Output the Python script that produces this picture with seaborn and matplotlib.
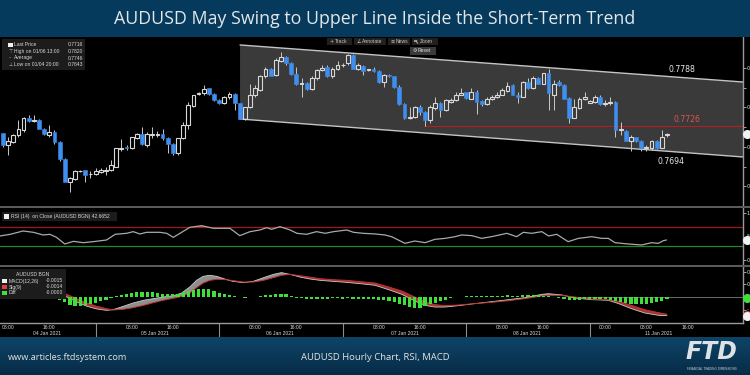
import matplotlib
matplotlib.use("Agg")
import matplotlib.pyplot as plt
import matplotlib.transforms as mtrans
from matplotlib.patches import Rectangle, Polygon, Circle
from matplotlib.lines import Line2D
from matplotlib.colors import LinearSegmentedColormap
import numpy as np
import pandas as pd
import seaborn as sns

sns.set_theme(style="dark")
plt.rcParams['font.family'] = ['DejaVu Sans']

# ---------------- data ----------------
opens = [0.7717, 0.7702, 0.7706, 0.7715, 0.7721, 0.7737, 0.7733, 0.7734, 0.7723, 0.7715,
         0.7719, 0.7706, 0.7685, 0.7656, 0.7659, 0.7669, 0.7671, 0.7665, 0.7665, 0.7668,
         0.7670, 0.7671, 0.7675, 0.7697, 0.7700, 0.7698, 0.7711, 0.7716, 0.7702, 0.7715,
         0.7715, 0.7716, 0.7711, 0.7704, 0.7692, 0.7711, 0.7728, 0.7752, 0.7767, 0.7768,
         0.7774, 0.7767, 0.7759, 0.7755, 0.7763, 0.7767, 0.7755, 0.7735, 0.7750, 0.7766,
         0.7772, 0.7789, 0.7799, 0.7791, 0.7808, 0.7814, 0.7806, 0.7792, 0.7780, 0.7781,
         0.7773, 0.7787, 0.7797, 0.7801, 0.7789, 0.7799, 0.7803, 0.7806, 0.7816, 0.7799,
         0.7802, 0.7797, 0.7798, 0.7796, 0.7782, 0.7791, 0.7789, 0.7776, 0.7754, 0.7737,
         0.7738, 0.7751, 0.7744, 0.7734, 0.7749, 0.7755, 0.7747, 0.7757, 0.7759, 0.7766,
         0.7769, 0.7761, 0.7769, 0.7758, 0.7754, 0.7760, 0.7763, 0.7766, 0.7771, 0.7778,
         0.7766, 0.7763, 0.7782, 0.7775, 0.7787, 0.7780, 0.7793, 0.7766, 0.7782, 0.7778,
         0.7762, 0.7737, 0.7749, 0.7760, 0.7756, 0.7757, 0.7763, 0.7754, 0.7755, 0.7757,
         0.7721, 0.7720, 0.7707, 0.7712, 0.7707, 0.7698, 0.7698, 0.7707, 0.7699, 0.7715]
highs = [0.7718, 0.7713, 0.7716, 0.7734, 0.7738, 0.7740, 0.7740, 0.7735, 0.7724, 0.7728,
         0.7721, 0.7707, 0.7686, 0.7662, 0.7671, 0.7671, 0.7671, 0.7669, 0.7673, 0.7673,
         0.7675, 0.7683, 0.7699, 0.7710, 0.7702, 0.7712, 0.7718, 0.7725, 0.7719, 0.7725,
         0.7720, 0.7723, 0.7713, 0.7705, 0.7711, 0.7731, 0.7757, 0.7766, 0.7770, 0.7778,
         0.7775, 0.7768, 0.7760, 0.7764, 0.7770, 0.7768, 0.7756, 0.7751, 0.7780, 0.7778,
         0.7791, 0.7801, 0.7800, 0.7812, 0.7820, 0.7815, 0.7807, 0.7801, 0.7787, 0.7782,
         0.7789, 0.7799, 0.7804, 0.7803, 0.7801, 0.7808, 0.7806, 0.7818, 0.7817, 0.7806,
         0.7804, 0.7799, 0.7801, 0.7797, 0.7792, 0.7792, 0.7790, 0.7778, 0.7755, 0.7751,
         0.7752, 0.7753, 0.7745, 0.7753, 0.7763, 0.7757, 0.7761, 0.7762, 0.7770, 0.7774,
         0.7770, 0.7774, 0.7772, 0.7759, 0.7763, 0.7766, 0.7770, 0.7774, 0.7782, 0.7779,
         0.7770, 0.7783, 0.7787, 0.7789, 0.7788, 0.7794, 0.7799, 0.7785, 0.7785, 0.7779,
         0.7763, 0.7761, 0.7763, 0.7769, 0.7759, 0.7766, 0.7766, 0.7759, 0.7763, 0.7758,
         0.7732, 0.7721, 0.7715, 0.7713, 0.7709, 0.7702, 0.7709, 0.7709, 0.7721, 0.7718]
lows = [0.7700, 0.7690, 0.7705, 0.7713, 0.7719, 0.7732, 0.7731, 0.7722, 0.7715, 0.7713,
        0.7704, 0.7682, 0.7655, 0.7643, 0.7658, 0.7668, 0.7656, 0.7660, 0.7664, 0.7667,
        0.7664, 0.7669, 0.7675, 0.7695, 0.7696, 0.7697, 0.7710, 0.7702, 0.7700, 0.7711,
        0.7713, 0.7709, 0.7692, 0.7690, 0.7690, 0.7710, 0.7722, 0.7751, 0.7766, 0.7766,
        0.7766, 0.7758, 0.7754, 0.7754, 0.7761, 0.7747, 0.7735, 0.7734, 0.7749, 0.7763,
        0.7771, 0.7787, 0.7789, 0.7789, 0.7807, 0.7804, 0.7791, 0.7778, 0.7763, 0.7772,
        0.7772, 0.7785, 0.7796, 0.7788, 0.7787, 0.7797, 0.7801, 0.7804, 0.7798, 0.7797,
        0.7791, 0.7796, 0.7795, 0.7781, 0.7776, 0.7788, 0.7774, 0.7753, 0.7735, 0.7735,
        0.7737, 0.7740, 0.7726, 0.7730, 0.7747, 0.7738, 0.7745, 0.7755, 0.7758, 0.7766,
        0.7761, 0.7760, 0.7742, 0.7752, 0.7753, 0.7759, 0.7762, 0.7765, 0.7770, 0.7765,
        0.7755, 0.7763, 0.7773, 0.7773, 0.7779, 0.7779, 0.7747, 0.7747, 0.7777, 0.7760,
        0.7730, 0.7736, 0.7748, 0.7759, 0.7755, 0.7755, 0.7753, 0.7752, 0.7753, 0.7713,
        0.7715, 0.7707, 0.7695, 0.7706, 0.7695, 0.7695, 0.7696, 0.7697, 0.7698, 0.7713]
closes = [0.7702, 0.7707, 0.7715, 0.7723, 0.7737, 0.7733, 0.7734, 0.7723, 0.7716, 0.7719,
          0.7706, 0.7685, 0.7656, 0.7660, 0.7669, 0.7670, 0.7664, 0.7666, 0.7669, 0.7671,
          0.7671, 0.7677, 0.7698, 0.7699, 0.7698, 0.7712, 0.7716, 0.7703, 0.7716, 0.7716,
          0.7716, 0.7711, 0.7704, 0.7692, 0.7711, 0.7728, 0.7753, 0.7766, 0.7768, 0.7773,
          0.7767, 0.7759, 0.7755, 0.7763, 0.7767, 0.7755, 0.7735, 0.7751, 0.7766, 0.7774,
          0.7789, 0.7799, 0.7790, 0.7810, 0.7814, 0.7806, 0.7792, 0.7779, 0.7781, 0.7773,
          0.7787, 0.7797, 0.7800, 0.7789, 0.7799, 0.7803, 0.7804, 0.7816, 0.7799, 0.7803,
          0.7796, 0.7798, 0.7796, 0.7782, 0.7791, 0.7789, 0.7776, 0.7754, 0.7736, 0.7738,
          0.7751, 0.7744, 0.7734, 0.7751, 0.7755, 0.7747, 0.7759, 0.7759, 0.7766, 0.7768,
          0.7762, 0.7769, 0.7757, 0.7754, 0.7760, 0.7763, 0.7766, 0.7772, 0.7777, 0.7766,
          0.7763, 0.7782, 0.7775, 0.7787, 0.7780, 0.7793, 0.7768, 0.7780, 0.7778, 0.7761,
          0.7737, 0.7750, 0.7760, 0.7763, 0.7758, 0.7763, 0.7754, 0.7756, 0.7757, 0.7721,
          0.7722, 0.7707, 0.7712, 0.7707, 0.7698, 0.7700, 0.7707, 0.7698, 0.7713, 0.7716]

legend_labels = ["Last Price", "High on 01/06 13:00", "Average", "Low on 01/04 20:00"]
legend_values = ["0.7716", "0.7820", "0.7746", "0.7643"]
last_price = 0.7716

channel_x = [46.05, 143.8]
channel_upper = [0.78289, 0.77820]
channel_lower = [0.77352, 0.76871]
support_start = 81.8
support_level = 0.7726
channel_labels = ["0.7788", "0.7726", "0.7694"]

rsi_x = [-0.6, 1.4, 3.9, 5.9, 7.8, 9.1, 10.4, 12.0, 13.7, 15.6,
         17.5, 20.1, 21.8, 24.0, 25.3, 26.6, 27.9, 30.5, 31.8, 33.1,
         34.7, 36.3, 38.6, 40.9, 44.1, 46.0, 48.0, 49.9, 51.2, 52.2,
         53.8, 55.8, 57.1, 59.0, 60.9, 62.6, 64.2, 66.8, 68.1, 70.0,
         72.3, 74.2, 75.5, 78.1, 80.0, 82.0, 83.9, 85.9, 87.8, 89.1,
         91.1, 93.0, 94.9, 97.9, 99.8, 101.1, 102.7, 104.7, 106.0, 107.6,
         109.8, 111.8, 114.4, 116.3, 117.6, 118.9, 121.5, 124.1, 126.0, 127.3,
         128.3, 128.9]
rsi_v = [51.1, 54.6, 61.6, 58.8, 53.2, 54.6, 48.2, 34.2, 39.8, 37.0,
         39.1, 42.6, 54.6, 56.7, 60.2, 55.3, 58.8, 58.8, 56.7, 48.2,
         58.8, 69.3, 72.8, 67.2, 67.2, 51.8, 60.2, 63.7, 68.6, 65.1,
         70.7, 63.7, 56.7, 54.6, 60.2, 56.7, 60.2, 63.7, 58.8, 56.7,
         55.3, 53.2, 49.6, 35.6, 40.5, 37.0, 44.0, 46.1, 49.6, 53.2,
         51.8, 46.1, 49.6, 56.7, 49.6, 58.8, 56.7, 60.2, 51.1, 54.6,
         39.1, 46.1, 49.6, 46.1, 46.1, 37.0, 34.2, 32.1, 37.0, 35.6,
         41.2, 42.67]
rsi_upper, rsi_lower = 70, 30
rsi_label = "RSI (14)  on Close (AUDUSD BGN) 42.6652"

# MACD values in thousandths
macd_x = [-0.6, 5.9, 10.4, 12.4, 14.3, 16.3, 18.2, 20.1, 21.4, 23.4,
          25.3, 27.3, 29.2, 31.1, 33.1, 34.7, 36.3, 37.6, 38.9, 40.2,
          41.5, 43.5, 44.7, 46.7, 48.6, 50.6, 52.5, 54.1, 55.8, 57.7,
          59.6, 61.6, 64.2, 66.8, 69.4, 72.3, 74.9, 77.5, 80.0, 82.0,
          83.9, 85.9, 88.5, 91.7, 94.9, 98.2, 101.4, 104.7, 106.0, 108.6,
          111.1, 114.4, 117.6, 119.6, 122.1, 124.7, 127.3, 129.0]
macd_v = [0.58, 0.52, 0.31, 0.0, -0.39, -0.73, -0.94, -1.05, -1.00, -0.73,
          -0.47, -0.26, -0.13, 0.0, 0.10, 0.31, 0.79, 1.31, 1.63, 1.71,
          1.63, 1.36, 1.23, 1.13, 1.23, 1.52, 1.78, 1.92, 1.78, 1.57,
          1.42, 1.31, 1.23, 1.15, 1.05, 0.92, 0.58, 0.21, -0.31, -0.66,
          -0.79, -0.79, -0.68, -0.52, -0.37, -0.21, -0.05, 0.21, 0.26, 0.16,
          -0.08, -0.21, -0.26, -0.52, -0.92, -1.26, -1.44, -1.47]
sig_v = [0.47, 0.52, 0.42, 0.21, -0.13, -0.47, -0.73, -0.92, -1.02, -0.97,
         -0.84, -0.66, -0.45, -0.26, -0.10, 0.05, 0.31, 0.73, 1.10, 1.31,
         1.39, 1.36, 1.29, 1.18, 1.18, 1.31, 1.52, 1.71, 1.78, 1.68,
         1.57, 1.44, 1.36, 1.31, 1.21, 1.10, 0.79, 0.47, 0.0, -0.39,
         -0.60, -0.68, -0.63, -0.52, -0.42, -0.29, -0.13, 0.08, 0.13, 0.13,
         0.0, -0.16, -0.21, -0.34, -0.66, -1.00, -1.23, -1.36]
diff_v = [-0.05, -0.03, 0.02, 0.04, 0.05, 0.04, 0.02, 0.0, -0.03, -0.05, -0.10,
          -0.21, -0.39, -0.66, -0.71, -0.71, -0.66, -0.52, -0.45, -0.31, -0.21, -0.10,
          0.05, 0.13, 0.21, 0.31, 0.39, 0.39, 0.39, 0.37, 0.31, 0.26, 0.21, 0.21, 0.24,
          0.37, 0.47, 0.58, 0.66, 0.66, 0.60, 0.45, 0.29, 0.21, 0.13,
          0.05, 0.0, -0.05, -0.03, 0.0, 0.05, 0.16, 0.18, 0.21, 0.26, 0.21, 0.10,
          -0.05, -0.10, -0.13, -0.13, -0.16, -0.13, -0.13, -0.10, -0.10, -0.13, -0.10,
          -0.13, -0.13, -0.16, -0.16, -0.18,
          -0.21, -0.26, -0.31, -0.39, -0.52, -0.66, -0.79, -0.84, -0.84, -0.73, -0.58,
          -0.47, -0.31, -0.21, -0.10, -0.03, 0.03, 0.05,
          0.08, 0.08, 0.08, 0.08, 0.05, 0.08, 0.10, 0.13, 0.10, 0.10, 0.13, 0.13, 0.16,
          0.13, 0.10, 0.05, 0.0, -0.05, -0.13, -0.21,
          -0.26, -0.21, -0.18, -0.18, -0.16, -0.16, -0.18, -0.21, -0.31, -0.39, -0.47,
          -0.52, -0.55, -0.55, -0.52, -0.47, -0.39, -0.31, -0.13]
macd_legend = [("MACD(12,26)", "-0.0015"), ("Sig(9)", "-0.0014"), ("Diff", "-0.0000")]
macd_last, sig_last, diff_last = -1.50, -1.40, -0.06

hour_ticks = [1, 9, 25, 33, 49, 57, 73, 81, 97, 105, 117, 125, 133]
hour_labels = ["08:00", "16:00", "08:00", "16:00", "08:00", "16:00", "08:00", "16:00",
               "08:00", "16:00", "00:00", "08:00", "16:00"]
day_seps = [18, 42, 66, 90, 114]
day_label_x = [8.6, 29.6, 53.8, 78.1, 101.8, 127.3]
day_labels = ["04 Jan 2021", "05 Jan 2021", "06 Jan 2021", "07 Jan 2021",
              "08 Jan 2021", "11 Jan 2021"]

title = "AUDUSD May Swing to Upper Line Inside the Short-Term Trend"
footer_left = "www.articles.ftdsystem.com"
footer_center = "AUDUSD Hourly Chart, RSI, MACD"

# ---------------- layout helpers ----------------
W, H = 750.0, 375.0
fig = plt.figure(figsize=(7.5, 3.75), dpi=100, facecolor="black")


def rect(x0, y0, x1, y1):
    return [x0 / W, 1 - y1 / H, (x1 - x0) / W, (y1 - y0) / H]


def ftext(x, y, s, **kw):
    kw.setdefault("zorder", 6)
    return fig.text(x / W, 1 - y / H, s, **kw)


def frect(x0, y0, x1, y1, color, z=5):
    fig.add_artist(Rectangle((x0 / W, 1 - y1 / H), (x1 - x0) / W, (y1 - y0) / H,
                             transform=fig.transFigure, facecolor=color,
                             edgecolor="none", zorder=z))


BAR_PX, X0_PX, XR_PX = 5.147, 3.0, 743.0
XLIM = (-X0_PX / BAR_PX, (XR_PX - X0_PX) / BAR_PX)
TINY = 3.6
SMALLF = "Liberation Sans"
TXT = "#d9d9d9"
BLUE = "#3f8ff0"

ax_main = fig.add_axes(rect(0, 37, 743, 205.5))
ax_rsi = fig.add_axes(rect(0, 207.5, 743, 264.5))
ax_macd = fig.add_axes(rect(0, 266.5, 743, 322.5))

for ax in (ax_main, ax_rsi, ax_macd):
    ax.set_facecolor("black")
    ax.grid(False)
    for s in ("left", "top", "bottom"):
        ax.spines[s].set_visible(False)
    ax.spines["right"].set_color("#9a9a9a")
    ax.spines["right"].set_linewidth(1.0)
    ax.yaxis.tick_right()
    ax.tick_params(axis="y", which="both", direction="out", length=2, width=0.6,
                   color="#bbbbbb", labelsize=TINY, labelcolor="#e0e0e0", pad=0.6)
    ax.set_xlim(*XLIM)

# ---------------- main price panel ----------------
ax_main.set_ylim(0.7820 - (205.5 - 52) / 7900, 0.7820 + 15 / 7900)
ax_main.tick_params(axis="x", bottom=False, labelbottom=False)
ax_main.set_yticks([0.765, 0.770, 0.775, 0.780])
ax_main.set_yticklabels(["0", "0", "0", "0"])   # only the first glyph fits in the frame
ax_main.set_yticks([0.7675, 0.7725, 0.7775], minor=True)

poly = Polygon([(channel_x[0], channel_upper[0]), (channel_x[1], channel_upper[1]),
                (channel_x[1], channel_lower[1]), (channel_x[0], channel_lower[0])],
               closed=True, facecolor="#3a3a3a", edgecolor="none", zorder=1)
ax_main.add_patch(poly)
ax_main.plot(channel_x, channel_upper, color="#c4c4c4", lw=1.0, zorder=2)
ax_main.plot(channel_x, channel_lower, color="#c4c4c4", lw=1.0, zorder=2)
ax_main.plot([support_start, channel_x[1]], [support_level, support_level],
             color="#b42020", lw=0.8, zorder=2)

o = np.array(opens); c = np.array(closes); h = np.array(highs); l = np.array(lows)
xs = np.arange(len(o))
up = c >= o
blo = np.minimum(o, c); bhi = np.maximum(o, c)
ax_main.vlines(xs, l, blo, color="#c8c8c8", lw=0.7, zorder=3)
ax_main.vlines(xs, bhi, h, color="#c8c8c8", lw=0.7, zorder=3)
hts = np.maximum(bhi - blo, 0.00005)
ax_main.bar(xs[up], hts[up], bottom=blo[up], width=0.74, facecolor="none",
            edgecolor="#d8d8d8", linewidth=0.8, zorder=4)
ax_main.bar(xs[~up], hts[~up], bottom=blo[~up], width=0.74, facecolor=BLUE,
            edgecolor=BLUE, linewidth=0.4, zorder=4)

tr_main = mtrans.blended_transform_factory(ax_main.transAxes, ax_main.transData)
ax_main.plot([1.006], [last_price], "o", ms=5.5, color="#f2f2f2", transform=tr_main,
             clip_on=False, zorder=10)

# channel value labels
ftext(682, 69, channel_labels[0], fontsize=5.6, color="#e8e8e8", ha="center", va="center")
ftext(687, 119.5, channel_labels[1], fontsize=5.6, color="#e05050", ha="center", va="center")
ftext(671, 161, channel_labels[2], fontsize=5.6, color="#e8e8e8", ha="center", va="center")

# legend box of main panel
frect(2, 39, 85, 70, "#1c1c1c")
frect(8, 42.8, 12.5, 47.3, "#f0f0f0", z=6)
icons = ["", "\u22a4", "\u2013", "\u22a5"]
rows_y = [45, 51.5, 58, 64.5]
for lab, val, ic, yy in zip(legend_labels, legend_values, icons, rows_y):
    if ic:
        ftext(10.2, yy, ic, fontsize=3.4, color="#bbbbbb", ha="center", va="center")
    ftext(14, yy, lab, fontsize=TINY, color=TXT, va="center", family=SMALLF)
    ftext(83, yy, val, fontsize=TINY, color=TXT, va="center", ha="right", family=SMALLF)

# toolbar
for x0, x1, lab, ic in [(327, 352, "Track", "+"), (354, 386, "Annotate", "\u2220"),
                        (388, 410, "News", "\u2261"), (412, 438, "Zoom", "")]:
    frect(x0, 38, x1, 45, "#202020")
    ftext(x0 + 8, 41.6, lab, fontsize=TINY, color="#c8c8c8", va="center", family=SMALLF)
    if ic:
        ftext(x0 + 4.5, 41.6, ic, fontsize=TINY, color="#c8c8c8", ha="center", va="center")
# magnifier icon for "Zoom" (drawn as a shape)
fig.add_artist(Circle((415.6 / W, 1 - 41.0 / H), 1.4 / W, transform=fig.transFigure,
                      facecolor="none", edgecolor="#c8c8c8", lw=0.5, zorder=7))
fig.add_artist(Line2D([416.6 / W, 418.0 / W], [1 - 42.0 / H, 1 - 43.4 / H],
                      transform=fig.transFigure, color="#c8c8c8", lw=0.6, zorder=7))
frect(410, 47, 436, 54.5, "#3a3a3a")
ftext(415, 50.8, "\u2699", fontsize=TINY, color="#dddddd", ha="center", va="center")
ftext(418, 50.8, "Reset", fontsize=TINY, color="#dddddd", va="center", family=SMALLF)

# ---------------- RSI panel ----------------
ax_rsi.set_ylim(30 - 18.5 / 0.475, 70 + 19.5 / 0.475)
ax_rsi.tick_params(axis="x", bottom=False, labelbottom=False)
ax_rsi.set_yticks([0, 50, 100])
ax_rsi.set_yticklabels(["0", "5", "1"])
ax_rsi.axhline(rsi_upper, color="#a01818", lw=0.9)
ax_rsi.axhline(rsi_lower, color="#1f8a2a", lw=0.9)
rx = np.array(rsi_x); rv = np.array(rsi_v)
ax_rsi.fill_between(rx, rsi_upper, rv, where=rv > rsi_upper, interpolate=True,
                    color="#c04848", lw=0)
sns.lineplot(x=rsi_x, y=rsi_v, ax=ax_rsi, color="#a9a9a9", linewidth=0.9, legend=False)
tr_rsi = mtrans.blended_transform_factory(ax_rsi.transAxes, ax_rsi.transData)
ax_rsi.plot([1.006], [rsi_v[-1]], "o", ms=5.5, color="#f2f2f2", transform=tr_rsi,
            clip_on=False, zorder=10)
frect(2, 212, 117, 221, "#1c1c1c")
frect(4, 214.2, 8.6, 218.8, "#f0f0f0", z=6)
ftext(11, 216.6, rsi_label, fontsize=TINY, color=TXT, va="center", family=SMALLF)

# ---------------- MACD panel ----------------
ax_macd.set_ylim(-25.5 / 12.7, 30.5 / 12.7)
ax_macd.spines["bottom"].set_visible(True)
ax_macd.spines["bottom"].set_color("#9a9a9a")
ax_macd.spines["bottom"].set_linewidth(1.0)
ax_macd.set_yticks([-1, 0, 1, 2])
ax_macd.set_yticklabels(["-", "0", "0", "0"])
mx = np.array(macd_x); mv = np.array(macd_v); sv = np.array(sig_v)
ax_macd.fill_between(mx, mv, sv, where=mv >= sv, interpolate=True, color="#8e8e8e", lw=0)
ax_macd.fill_between(mx, mv, sv, where=mv < sv, interpolate=True, color="#a83434", lw=0)
sns.lineplot(x=macd_x, y=macd_v, ax=ax_macd, color="#c9c9c9", linewidth=0.6, legend=False)
sns.lineplot(x=macd_x, y=sig_v, ax=ax_macd, color="#c23030", linewidth=0.7, legend=False)
ax_macd.bar(xs, diff_v, width=0.62, color="#3fe03a", edgecolor="none", linewidth=0,
            zorder=3)
ax_macd.plot([112, XLIM[1]], [0, 0], color="#7a7a7a", lw=0.6, zorder=2)
tr_macd = mtrans.blended_transform_factory(ax_macd.transAxes, ax_macd.transData)
ax_macd.plot([1.006], [diff_last], "o", ms=5.5, color="#3fe03a", transform=tr_macd,
             clip_on=False, zorder=10)
ax_macd.plot([1.006], [sig_last], "o", ms=5.5, color="#d04040", transform=tr_macd,
             clip_on=False, zorder=10)
ax_macd.plot([1.006], [macd_last], "o", ms=5.5, color="#f2f2f2", transform=tr_macd,
             clip_on=False, zorder=11)

frect(0, 269, 66, 299, "#1c1c1c")
ftext(33, 274.8, "AUDUSD BGN", fontsize=TINY, color=TXT, ha="center", va="center",
      family=SMALLF)
for (lab, val), yy, col in zip(macd_legend, [281, 287, 293], ["#f0f0f0", "#e04040", "#3fe03a"]):
    frect(2, yy - 2.3, 6.6, yy + 2.3, col, z=6)
    ftext(9, yy, lab, fontsize=TINY, color=TXT, va="center", family=SMALLF)
    ftext(63, yy, val, fontsize=TINY, color=TXT, va="center", ha="right", family=SMALLF)

# time axis
ax_macd.set_xticks(hour_ticks)
ax_macd.set_xticklabels(hour_labels, family=SMALLF)
ax_macd.set_xticks(np.arange(5, 140, 8), minor=True)
ax_macd.tick_params(axis="x", which="major", length=0, pad=1.6, labelsize=TINY,
                    labelcolor=TXT)
ax_macd.tick_params(axis="x", which="minor", length=1.5, width=0.6, color="#aaaaaa",
                    direction="out")
tr_x = mtrans.blended_transform_factory(ax_macd.transData, ax_macd.transAxes)
for sx in day_seps:
    ax_macd.plot([sx, sx], [0, -15 / 56], color="#8c8c8c", lw=0.8, transform=tr_x,
                 clip_on=False)
for dx, dl in zip(day_label_x, day_labels):
    ax_macd.text(dx, -11 / 56, dl, transform=tr_x, fontsize=TINY, color=TXT,
                 ha="center", va="center", family=SMALLF)

# separators between panels
frect(0, 205.5, 750, 207.5, "#5a5a5a", z=4)
frect(0, 264.5, 750, 266.5, "#5a5a5a", z=4)

# ---------------- banners ----------------
frect(0, 0, 750, 37, "#053a5c", z=1)
ftext(375, 18.5, title, fontsize=12.8, color="#e4e6e8", ha="center", va="center",
      family="Open Sans")

axb = fig.add_axes(rect(0, 337, 750, 375))
grad = np.linspace(0, 1, 64).reshape(-1, 1)
cmap = LinearSegmentedColormap.from_list("ban", ["#0e4466", "#072c48"])
axb.imshow(grad, aspect="auto", cmap=cmap, extent=[0, 1, 0, 1], origin="upper")
axb.axis("off")
ftext(8, 357, footer_left, fontsize=6.6, color="#e2e2e2", va="center", family="Open Sans")
ftext(375, 357, footer_center, fontsize=6.8, color="#e2e2e2", va="center", ha="center",
      family="Open Sans")
ftext(711, 352, "FTD", fontsize=17, fontweight="bold", style="italic", color="#dde2e6",
      ha="center", va="center")
ftext(712, 369.5, "FINANCIAL TRADING DIMENSIONS", fontsize=2.2, color="#c8ccd0",
      ha="center", va="center")

fig.savefig("out.png", dpi=100, facecolor="black")
